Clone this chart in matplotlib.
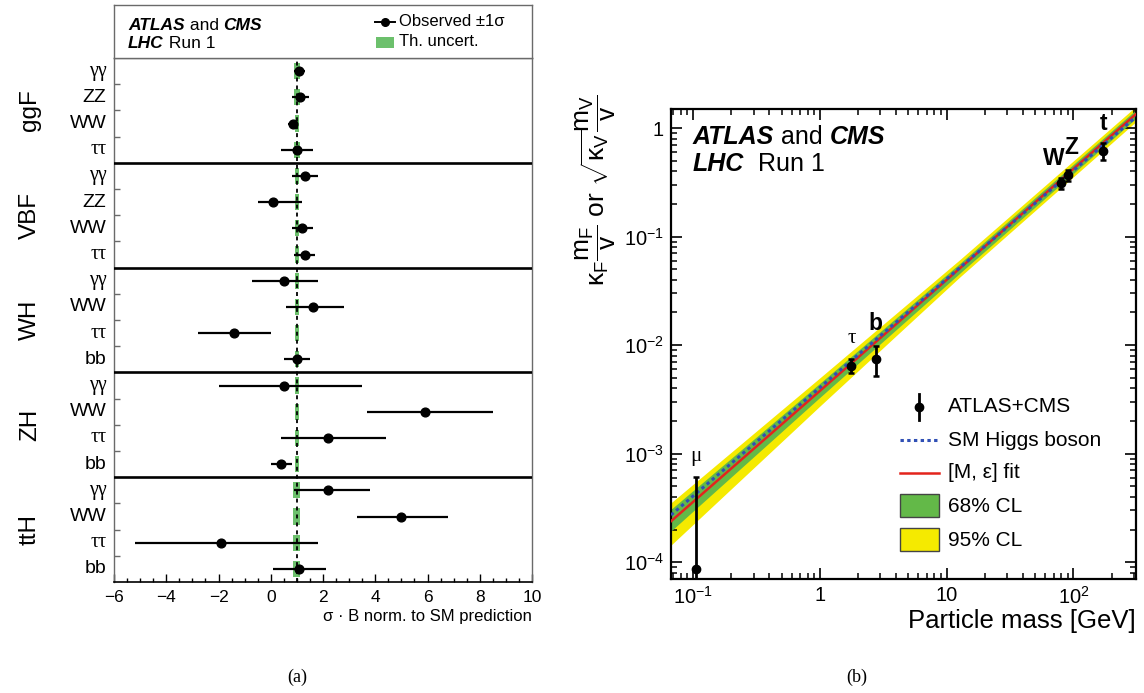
import numpy as np
import matplotlib
matplotlib.use('Agg')
import matplotlib.pyplot as plt
import matplotlib.ticker as mticker
from matplotlib.patches import Rectangle
from matplotlib.lines import Line2D
from matplotlib.transforms import blended_transform_factory

plt.rcParams['font.family'] = ['Liberation Sans', 'DejaVu Sans']
plt.rcParams['mathtext.fontset'] = 'custom'
plt.rcParams['mathtext.rm'] = 'Liberation Sans'
plt.rcParams['mathtext.it'] = 'Liberation Sans'
plt.rcParams['mathtext.bf'] = 'Liberation Sans:bold'

# ---------------- Panel (a) data ----------------
production = ['ggF', 'VBF', 'WH', 'ZH', 'ttH']
decays = ['γγ', 'ZZ', 'WW', 'ττ',
          'γγ', 'ZZ', 'WW', 'ττ',
          'γγ', 'WW', 'ττ', 'bb',
          'γγ', 'WW', 'ττ', 'bb',
          'γγ', 'WW', 'ττ', 'bb']
mu_obs = [1.10, 1.13, 0.84, 1.0,
          1.3, 0.1, 1.2, 1.3,
          0.5, 1.6, -1.4, 1.0,
          0.5, 5.9, 2.2, 0.4,
          2.2, 5.0, -1.9, 1.1]
mu_err_lo = [0.22, 0.31, 0.17, 0.6,
             0.5, 0.6, 0.4, 0.4,
             1.2, 1.0, 1.4, 0.5,
             2.5, 2.2, 1.8, 0.4,
             1.3, 1.7, 3.3, 1.0]
mu_err_hi = [0.23, 0.34, 0.17, 0.6,
             0.5, 1.1, 0.4, 0.4,
             1.3, 1.2, 1.4, 0.5,
             3.0, 2.6, 2.2, 0.4,
             1.6, 1.8, 3.7, 1.0]
th_unc = [0.12, 0.11, 0.09, 0.12,
          0.08, 0.08, 0.08, 0.08,
          0.07, 0.07, 0.07, 0.07,
          0.07, 0.07, 0.07, 0.07,
          0.13, 0.13, 0.13, 0.13]
sm_value = 1.0

# ---------------- Panel (b) data ----------------
particles = ['μ', 'τ', 'b', 'W', 'Z', 't']
part_mass = [0.1057, 1.777, 2.76, 80.4, 91.2, 172.5]
part_y = [8.7e-5, 6.4e-3, 7.5e-3, 0.31, 0.37, 0.61]
part_y_lo = [1e-7, 5.5e-3, 5.2e-3, 0.275, 0.326, 0.51]
part_y_hi = [6.1e-4, 7.5e-3, 9.9e-3, 0.345, 0.413, 0.727]
vev = 246.0
fit_M = 233.0
fit_eps = 0.023
line_mass = [0.067, 312.0]
band_mass = [0.067, 1.0, 12.7, 312.0]
band68_up = [0.11, 0.07, 0.045, 0.04]
band68_dn = [0.09, 0.06, 0.045, 0.04]
band95_up = [0.17, 0.12, 0.08, 0.07]
band95_dn = [0.22, 0.14, 0.08, 0.07]

# ---------------- figure ----------------
W, H = 1144, 693
fig = plt.figure(figsize=(W / 100, H / 100), dpi=100)

def fx(x):
    return x / W

def fy(y):
    return 1 - y / H

GREEN_TH = '#6cc06c'
GREY = '#6a6a6a'

# ---- panel (a) main axes
axL = fig.add_axes([fx(114), fy(582), fx(532) - fx(114), fy(58) - fy(582)])
n = len(decays)
rows = np.arange(n) + 0.5
axL.barh(rows, 2 * np.array(th_unc), left=sm_value - np.array(th_unc), height=0.62,
         color=GREEN_TH, lw=0, zorder=1)
axL.axvline(sm_value, color='k', ls=(0, (2.2, 2.2)), lw=1.3, zorder=2)
axL.errorbar(mu_obs, rows, xerr=[mu_err_lo, mu_err_hi], fmt='o', color='k', ms=6.3,
             lw=1.6, capsize=0, zorder=3)
for g in range(1, len(production)):
    axL.axhline(4 * g, color='k', lw=1.9, zorder=4)
axL.set_xlim(-6, 10)
axL.set_ylim(n, 0)
axL.xaxis.set_major_locator(mticker.MultipleLocator(2))
axL.xaxis.set_minor_locator(mticker.MultipleLocator(0.5))
axL.xaxis.set_major_formatter(mticker.FuncFormatter(lambda v, p: f'{v:.0f}'.replace('-', '\u2212')))
axL.tick_params(axis='x', which='major', direction='in', length=5.5, width=1, pad=6, labelsize=12.5)
axL.tick_params(axis='x', which='minor', direction='in', length=3, width=1)
bounds = [b for b in range(1, n) if b % 4 != 0]
axL.set_yticks(bounds)
axL.set_yticklabels([])
axL.tick_params(axis='y', direction='in', length=4, width=1, color=GREY)
for s in ['left', 'right', 'top']:
    axL.spines[s].set_color(GREY)
    axL.spines[s].set_linewidth(1.0)
axL.spines['bottom'].set_linewidth(1.2)

trans = blended_transform_factory(axL.transAxes, axL.transData)
for r, lab in zip(rows, decays):
    fam = ['Liberation Serif'] if lab in ('γγ', 'ττ') else ['Liberation Sans']
    axL.text(-0.018, r, lab, transform=trans, ha='right', va='center',
             fontsize=14 if lab not in ('γγ', 'ττ') else 14.5, family=fam)
for g, p in enumerate(production):
    fig.text(fx(30), fy(58 + (4 * g + 2) * 26.2), p, rotation=90, ha='center', va='center',
             fontsize=17.5)
fig.text(fx(532), fy(617), 'σ · B norm. to SM prediction', ha='right', va='center', fontsize=12)

# ---- panel (a) header box
axH = fig.add_axes([fx(114), fy(58), fx(532) - fx(114), fy(5) - fy(58)])
axH.set_xticks([]); axH.set_yticks([])
for s in axH.spines.values():
    s.set_color(GREY); s.set_linewidth(1.0)
t1 = fig.text(fx(128), fy(26), 'ATLAS', fontsize=12.5, fontweight='bold', fontstyle='italic',
              ha='left', va='center')
t2 = axH.annotate(' and ', xy=(1, 0), xycoords=t1, ha='left', va='bottom', fontsize=12.5)
axH.annotate('CMS', xy=(1, 0), xycoords=t2, ha='left', va='bottom', fontsize=12.5,
             fontweight='bold', fontstyle='italic')
t3 = fig.text(fx(128), fy(44), 'LHC', fontsize=12.5, fontweight='bold', fontstyle='italic',
              ha='left', va='center')
axH.annotate(' Run 1', xy=(1, 0), xycoords=t3, ha='left', va='bottom', fontsize=12.5)
fig.add_artist(Line2D([fx(375), fx(395)], [fy(22), fy(22)], color='k', lw=1.4,
                      transform=fig.transFigure))
fig.add_artist(Line2D([fx(385)], [fy(22)], color='k', marker='o', ms=5.5, ls='none',
                      transform=fig.transFigure))
fig.text(fx(399), fy(22), 'Observed ±1σ', fontsize=12, ha='left', va='center')
fig.add_artist(Rectangle((fx(376), fy(48)), fx(394) - fx(376), fy(37) - fy(48),
                         color=GREEN_TH, lw=0, transform=fig.transFigure))
fig.text(fx(399), fy(42), 'Th. uncert.', fontsize=12, ha='left', va='center')

fig.text(fx(297), fy(677), '(a)', fontsize=13, family=['Liberation Serif'], ha='center', va='center')

# ---------------- panel (b) ----------------
YELLOW = '#f5ea00'
GREEN = '#63b948'
RED = '#e3241c'
BLUE = '#2f4fb5'

axR = fig.add_axes([fx(671), fy(579), fx(1136) - fx(671), fy(109) - fy(579)])
axR.set_xscale('log'); axR.set_yscale('log')
axR.set_xlim(0.067, 312)
axR.set_ylim(7.0e-5, 1.5)

bm = np.array(band_mass)
fit_b = (bm / fit_M) ** (1 + fit_eps)
axR.fill_between(bm, fit_b * 10 ** (-np.array(band95_dn)), fit_b * 10 ** np.array(band95_up),
                 color=YELLOW, lw=0, zorder=1)
axR.fill_between(bm, fit_b * 10 ** (-np.array(band68_dn)), fit_b * 10 ** np.array(band68_up),
                 color=GREEN, lw=0, zorder=2)
lm = np.array(line_mass)
axR.plot(lm, (lm / fit_M) ** (1 + fit_eps), color=RED, lw=1.8, zorder=3)
axR.plot(lm, lm / vev, color=BLUE, lw=2.2, ls=(0, (1.1, 1.1)), zorder=4)

py = np.array(part_y)
axR.errorbar(part_mass, part_y, yerr=[py - np.array(part_y_lo), np.array(part_y_hi) - py],
             fmt='o', color='k', ms=6, lw=2.0, capsize=2, capthick=1.8, zorder=5)

label_dx = {'μ': 0, 'τ': 0, 'b': 0, 'W': -8, 'Z': 3, 't': 0}
for p, m, yh in zip(particles, part_mass, part_y_hi):
    if p in ('μ', 'τ'):
        kw = dict(fontsize=15, family=['Liberation Serif'])
    else:
        kw = dict(fontsize=16.5, fontweight='bold')
    dy = 22 if p in ('b', 'Z') else 20
    axR.annotate(p, xy=(m, yh), xytext=(label_dx[p], dy), textcoords='offset pixels',
                 ha='center', va='center', zorder=6, **kw)

def xfmt(v, p):
    d = {0.1: r'$10^{-1}$', 1: '1', 10: '10', 100: r'$10^{2}$'}
    for k, s in d.items():
        if abs(v - k) / k < 1e-6:
            return s
    return ''

def yfmt(v, p):
    if abs(v - 1) < 1e-9:
        return '1'
    e = int(round(np.log10(v)))
    return r'$10^{%d}$' % e

axR.xaxis.set_major_locator(mticker.FixedLocator([0.1, 1, 10, 100]))
axR.xaxis.set_major_formatter(mticker.FuncFormatter(xfmt))
axR.xaxis.set_minor_locator(mticker.LogLocator(base=10, subs=np.arange(2, 10), numticks=20))
axR.xaxis.set_minor_formatter(mticker.NullFormatter())
axR.yaxis.set_major_locator(mticker.FixedLocator([1e-4, 1e-3, 1e-2, 1e-1, 1]))
axR.yaxis.set_major_formatter(mticker.FuncFormatter(yfmt))
axR.yaxis.set_minor_locator(mticker.LogLocator(base=10, subs=np.arange(2, 10), numticks=20))
axR.yaxis.set_minor_formatter(mticker.NullFormatter())
axR.tick_params(which='major', direction='in', length=8, width=1.2, top=True, right=True,
                labelsize=14.5, pad=5)
axR.tick_params(which='minor', direction='in', length=4.5, width=1.1, top=True, right=True)
for s in axR.spines.values():
    s.set_linewidth(1.6)

r1 = fig.text(fx(693), fy(137), 'ATLAS', fontsize=18, fontweight='bold', fontstyle='italic',
              ha='left', va='center')
r2 = axR.annotate(' and ', xy=(1, 0), xycoords=r1, ha='left', va='bottom', fontsize=18)
axR.annotate('CMS', xy=(1, 0), xycoords=r2, ha='left', va='bottom', fontsize=18,
             fontweight='bold', fontstyle='italic')
r3 = fig.text(fx(693), fy(164), 'LHC', fontsize=18, fontweight='bold', fontstyle='italic',
              ha='left', va='center')
axR.annotate('  Run 1', xy=(1, 0), xycoords=r3, ha='left', va='bottom', fontsize=18)

fig.text(fx(596), fy(190),
         r'$\kappa_{\mathrm{F}}\dfrac{\mathrm{m_F}}{\mathrm{v}}$ or $\sqrt{\kappa_{\mathrm{V}}}\dfrac{\mathrm{m_V}}{\mathrm{v}}$',
         rotation=90, ha='center', va='center', fontsize=19)
fig.text(fx(1136), fy(621), 'Particle mass [GeV]', ha='right', va='center', fontsize=18.5)

# legend (b)
tf = fig.transFigure
fig.add_artist(Line2D([fx(919), fx(919)], [fy(394), fy(420)], color='k', lw=2.0, transform=tf))
fig.add_artist(Line2D([fx(919)], [fy(407)], color='k', marker='o', ms=6, ls='none', transform=tf))
fig.add_artist(Line2D([fx(900), fx(939)], [fy(440), fy(440)], color=BLUE, lw=2.2,
                      ls=(0, (1.1, 1.1)), transform=tf))
fig.add_artist(Line2D([fx(900), fx(939)], [fy(473), fy(473)], color=RED, lw=1.8, transform=tf))
fig.add_artist(Rectangle((fx(900), fy(517)), fx(939) - fx(900), fy(494) - fy(517),
                         facecolor=GREEN, edgecolor='#444444', lw=1.0, transform=tf))
fig.add_artist(Rectangle((fx(900), fy(551)), fx(939) - fx(900), fy(528) - fy(551),
                         facecolor=YELLOW, edgecolor='#444444', lw=1.0, transform=tf))
leg_txt = ['ATLAS+CMS', 'SM Higgs boson', '[M, ε] fit', '68% CL', '95% CL']
leg_y = [407, 440, 473, 506, 540]
for t, yy in zip(leg_txt, leg_y):
    fig.text(fx(948), fy(yy), t, fontsize=15, ha='left', va='center')

fig.text(fx(857), fy(677), '(b)', fontsize=13, family=['Liberation Serif'], ha='center', va='center')

fig.savefig('out.png', dpi=100)
